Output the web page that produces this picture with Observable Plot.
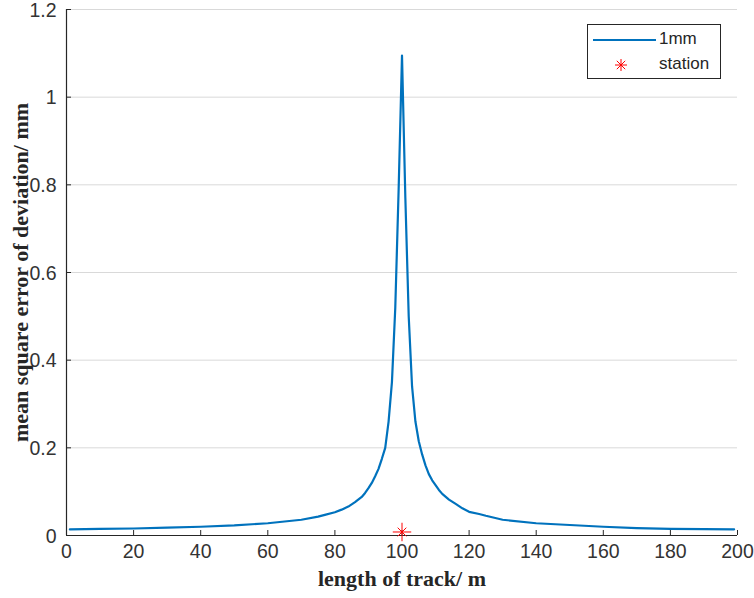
<!DOCTYPE html>
<html>
<head>
<meta charset="utf-8">
<script src="https://cdn.jsdelivr.net/npm/d3@7"></script>
<script src="https://cdn.jsdelivr.net/npm/@observablehq/plot@0.6"></script>
<style>
  html, body { margin: 0; padding: 0; background: #fff; }
  #wrap { position: relative; width: 754px; height: 598px; }
  #legend {
    position: absolute; left: 587px; top: 24px; width: 134px; height: 55px;
    border: 1px solid #262626; background: #fff; box-sizing: border-box;
    font-family: "Liberation Sans", Arial, sans-serif; font-size: 17px; color: #262626;
  }
  #legend svg { position: absolute; left: 0; top: 0; }
  #legend .lab { position: absolute; left: 71px; line-height: 20px; }
</style>
</head>
<body>
<div id="wrap">
  <div id="chart"></div>
  <div id="legend">
    <svg width="70" height="55">
      <line x1="5" x2="68" y1="15" y2="15" stroke="#0072BD" stroke-width="2"></line>
      <g stroke="red" stroke-width="1" transform="translate(33,40)">
        <line x1="-6" x2="6" y1="0" y2="0"></line>
        <line x1="0" x2="0" y1="-6" y2="6"></line>
        <line x1="-4.2" x2="4.2" y1="-4.2" y2="4.2"></line>
        <line x1="-4.2" x2="4.2" y1="4.2" y2="-4.2"></line>
      </g>
    </svg>
    <div class="lab" style="top:4px">1mm</div>
    <div class="lab" style="top:29px">station</div>
  </div>
</div>
<script>
// Axis ticks
const xTicks = [0, 20, 40, 60, 80, 100, 120, 140, 160, 180, 200];
const yTicks = [0, 0.2, 0.4, 0.6, 0.8, 1, 1.2];

// Position along the track (m) and mean square error of deviation (mm), 1mm case
const trackX = [1, 10, 20, 30, 40, 50, 60, 70, 75, 77, 80, 82, 84, 86, 88, 89, 90, 91, 92, 93,
                94, 95, 96, 97, 98, 99, 100, 101, 102, 103, 104, 105, 106, 107, 108, 109, 110,
                111, 112, 114, 116, 118, 120, 123, 125, 130, 140, 150, 160, 170, 180, 190, 199];
const rmse = [0.014, 0.015, 0.016, 0.018, 0.020, 0.023, 0.028, 0.036, 0.043, 0.047, 0.053, 0.059,
              0.066, 0.076, 0.088, 0.097, 0.108, 0.120, 0.135, 0.152,
              0.175, 0.200, 0.260, 0.350, 0.520, 0.790, 1.095, 0.770, 0.500, 0.340, 0.260, 0.215,
              0.185, 0.160, 0.140, 0.126, 0.115,
              0.104, 0.095, 0.082, 0.072, 0.062, 0.054, 0.049, 0.045, 0.036, 0.028, 0.024, 0.020,
              0.017, 0.015, 0.0145, 0.014];

// Station location
const stationX = [100];
const stationY = [0.008];

const width = 754, height = 598;
const margin = {left: 66, right: 17, top: 9, bottom: 63};
const innerW = width - margin.left - margin.right;
const innerH = height - margin.top - margin.bottom;

const curve = trackX.map((x, i) => ({x, y: rmse[i]}));
const stations = stationX.map((x, i) => ({x, y: stationY[i]}));

const axisColor = "#262626";
const tickFont = {fontFamily: "Liberation Sans, Arial, sans-serif", fontSize: 19.5, fill: "#333"};
const labelFont = {fontFamily: "Liberation Serif, Times New Roman, serif", fontSize: 22, fontWeight: "bold", fill: "#262626"};

const chart = Plot.plot({
  width, height,
  marginLeft: margin.left, marginRight: margin.right,
  marginTop: margin.top, marginBottom: margin.bottom,
  style: {background: "#fff", overflow: "visible"},
  x: {domain: [0, 200]},
  y: {domain: [0, 1.2]},
  marks: [
    Plot.gridY(yTicks.filter(d => d > 0), {stroke: "#d9d9d9", strokeOpacity: 1, strokeWidth: 1}),
    Plot.axisX(xTicks, {tickSize: 0, tickPadding: 9, label: null, tickFormat: d => String(d), ...tickFont}),
    Plot.axisY(yTicks, {tickSize: 0, tickPadding: 10, label: null, tickFormat: d => String(d), dy: 1, ...tickFont}),
    // inward tick marks
    Plot.tickX(xTicks, {x: d => d, stroke: axisColor, insetTop: innerH - 5}),
    Plot.tickY(yTicks, {y: d => d, stroke: axisColor, insetRight: innerW - 5}),
    Plot.ruleY([0], {stroke: axisColor, strokeWidth: 1.2}),
    Plot.ruleX([0], {stroke: axisColor, strokeWidth: 1.2}),
    Plot.line(curve, {x: "x", y: "y", stroke: "#0072BD", strokeWidth: 2.2}),
    Plot.dot(stations, {x: "x", y: "y", symbol: "plus", r: 6, stroke: "red", strokeWidth: 1}),
    Plot.dot(stations, {x: "x", y: "y", symbol: "times", r: 4, stroke: "red", strokeWidth: 1}),
    // axis titles
    Plot.text(["length of track/ m"], {frameAnchor: "bottom", dy: 50, ...labelFont}),
    Plot.text(["mean square error of deviation/ mm"], {frameAnchor: "left", textAnchor: "middle", rotate: -90, dx: -46, ...labelFont})
  ]
});

document.getElementById("chart").appendChild(chart);
</script>
</body>
</html>
